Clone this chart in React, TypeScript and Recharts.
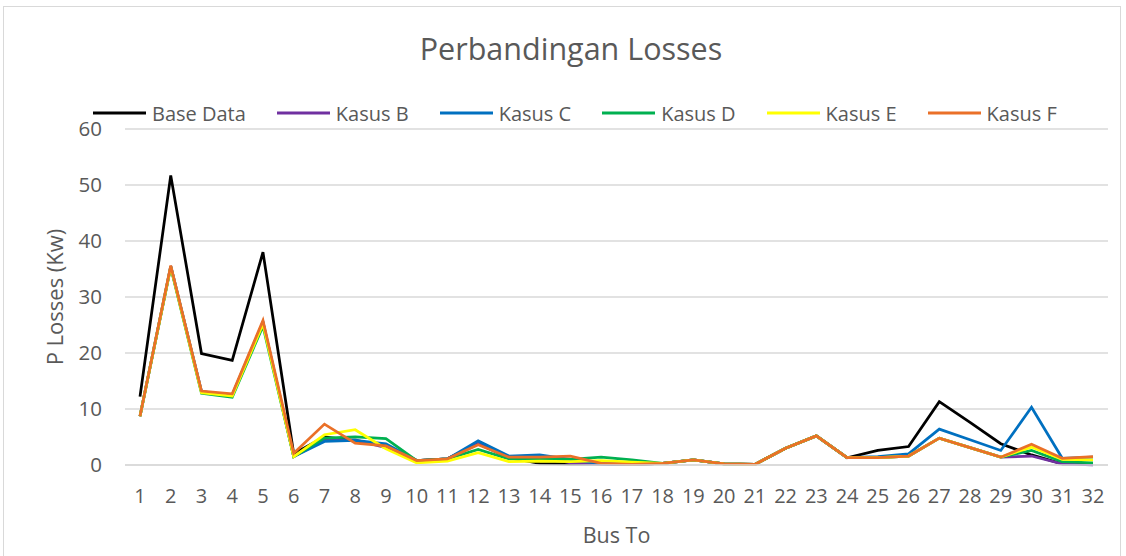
import {
  LineChart,
  Line,
  XAxis,
  YAxis,
  CartesianGrid,
  Legend,
} from "recharts";

const buses = [
  "1", "2", "3", "4", "5", "6", "7", "8", "9", "10", "11", "12", "13", "14", "15", "16",
  "17", "18", "19", "20", "21", "22", "23", "24", "25", "26", "27", "28", "29", "30", "31", "32",
];

const baseData = [
  12.2, 51.7, 19.9, 18.7, 38.0, 2.0, 5.0, 4.3, 3.5, 0.8, 1.1, 3.8, 1.3, 0.3, 0.2, 0.2,
  0.1, 0.3, 0.9, 0.2, 0.1, 3.0, 5.2, 1.3, 2.6, 3.3, 11.3, 7.6, 3.8, 1.8, 0.2, 0.3,
];
const kasusB = [
  8.7, 35.5, 13.1, 12.5, 25.5, 1.5, 4.5, 4.5, 3.1, 0.8, 1.1, 3.8, 1.5, 1.6, 0.4, 0.2,
  0.1, 0.3, 0.9, 0.2, 0.1, 3.0, 5.2, 1.3, 1.3, 1.6, 4.8, 3.1, 1.4, 1.6, 0.2, 0.0,
];
const kasusC = [
  8.7, 35.5, 13.1, 12.5, 25.5, 1.5, 4.2, 4.4, 3.8, 0.8, 1.1, 4.3, 1.6, 1.8, 1.0, 0.2,
  0.1, 0.3, 0.9, 0.2, 0.1, 3.0, 5.2, 1.3, 1.5, 2.0, 6.4, 4.5, 2.6, 10.3, 1.2, 1.4,
];
const kasusD = [
  8.7, 35.3, 12.8, 12.1, 24.8, 1.5, 4.8, 5.0, 4.7, 0.8, 1.1, 2.8, 1.1, 1.0, 1.0, 1.4,
  0.9, 0.3, 0.9, 0.2, 0.1, 3.0, 5.2, 1.3, 1.3, 1.6, 4.8, 3.1, 1.4, 2.6, 0.6, 0.4,
];
const kasusE = [
  8.7, 35.4, 12.9, 12.3, 25.2, 1.5, 5.4, 6.3, 2.9, 0.4, 0.7, 2.2, 0.6, 0.7, 0.6, 0.8,
  0.5, 0.3, 0.9, 0.2, 0.1, 3.0, 5.2, 1.3, 1.3, 1.6, 4.8, 3.1, 1.4, 3.2, 1.0, 0.9,
];
const kasusF = [
  8.7, 35.6, 13.2, 12.7, 25.8, 2.1, 7.3, 3.9, 3.4, 0.8, 1.1, 3.6, 1.4, 1.4, 1.6, 0.3,
  0.1, 0.3, 0.9, 0.2, 0.1, 3.0, 5.2, 1.3, 1.3, 1.6, 4.8, 3.1, 1.4, 3.7, 1.2, 1.5,
];

const yTicks = [0, 10, 20, 30, 40, 50, 60];

const series = [
  { key: "base", name: "Base Data", color: "#000000", values: baseData },
  { key: "b", name: "Kasus B", color: "#7030A0", values: kasusB },
  { key: "c", name: "Kasus C", color: "#0070C0", values: kasusC },
  { key: "d", name: "Kasus D", color: "#00B050", values: kasusD },
  { key: "e", name: "Kasus E", color: "#FFFF00", values: kasusE },
  { key: "f", name: "Kasus F", color: "#EA7028", values: kasusF },
];

const data = buses.map((bus, i) => {
  const row: Record<string, string | number> = { bus };
  series.forEach((s) => {
    row[s.key] = s.values[i];
  });
  return row;
});

const FONT = "'Open Sans', sans-serif";
const TEXT = "#595959";

function LegendRow() {
  return (
    <div
      style={{
        display: "flex",
        alignItems: "center",
        gap: 31,
        paddingLeft: 89,
        fontFamily: FONT,
        fontSize: 20,
        color: TEXT,
        height: 24,
      }}
    >
      {series.map((s) => (
        <div key={s.key} style={{ display: "flex", alignItems: "center" }}>
          <svg width={53} height={6} style={{ marginRight: 6 }}>
            <line x1={0} y1={3} x2={53} y2={3} stroke={s.color} strokeWidth={3} />
          </svg>
          <span>{s.name}</span>
        </div>
      ))}
    </div>
  );
}

export default function App() {
  return (
    <>
      <style>{`body{margin:0;overflow:hidden}`}</style>
      <div
        style={{
          position: "absolute",
          left: 3,
          top: 6,
          width: 1116,
          height: 560,
          border: "1px solid #d9d9d9",
          background: "#fff",
        }}
      >
        <div
          style={{
            position: "absolute",
            top: 21,
            left: 9,
            width: "100%",
            textAlign: "center",
            fontFamily: FONT,
            fontSize: 30.5,
            lineHeight: "40px",
            color: TEXT,
          }}
        >
          Perbandingan Losses
        </div>
        <LineChart
          width={1116}
          height={552}
          data={data}
          margin={{ top: 98, right: 12, bottom: 14, left: 0 }}
        >
          <CartesianGrid
            vertical={false}
            stroke="#d9d9d9"
            strokeWidth={1.5}
          />
          <XAxis
            dataKey="bus"
            height={80}
            interval={0}
            padding={{ left: 15, right: 15 }}
            tickLine={false}
            tickSize={0}
            tickMargin={24}
            axisLine={{ stroke: "#d9d9d9", strokeWidth: 1.5 }}
            tick={{ fill: TEXT, fontSize: 20, fontFamily: FONT }}
            label={{
              value: "Bus To",
              position: "insideBottom",
              offset: 2,
              fill: TEXT,
              fontSize: 21.5,
              fontFamily: FONT,
            }}
          />
          <YAxis
            width={121}
            domain={[0, 60]}
            ticks={yTicks}
            interval={0}
            tickLine={false}
            tickSize={0}
            tickMargin={23}
            axisLine={false}
            tick={{ fill: TEXT, fontSize: 20.5, fontFamily: FONT }}
            label={{
              value: "P Losses (Kw)",
              angle: -90,
              position: "insideLeft",
              offset: 51,
              fill: TEXT,
              fontSize: 22,
              fontFamily: FONT,
              style: { textAnchor: "middle" },
            }}
          />
          <Legend
            verticalAlign="top"
            wrapperStyle={{ top: 94, left: 0, width: 1116 }}
            content={() => <LegendRow />}
          />
          {series.map((s) => (
            <Line
              key={s.key}
              type="linear"
              dataKey={s.key}
              name={s.name}
              stroke={s.color}
              strokeWidth={2.75}
              dot={false}
              isAnimationActive={false}
            />
          ))}
        </LineChart>
      </div>
    </>
  );
}
